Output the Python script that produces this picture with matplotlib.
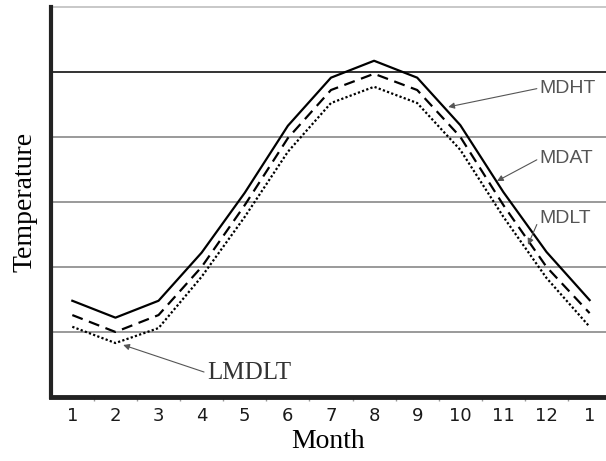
import matplotlib
matplotlib.use('Agg')
import matplotlib.pyplot as plt

# monthly temperature curves (arbitrary units)
month_labels = ['1', '2', '3', '4', '5', '6', '7', '8', '9', '10', '11', '12', '1']
mdht = [1.48, 1.22, 1.48, 2.22, 3.14, 4.17, 4.91, 5.17, 4.91, 4.18, 3.15, 2.23, 1.49]
mdat = [1.26, 1.00, 1.26, 2.00, 2.95, 3.98, 4.72, 4.97, 4.72, 4.00, 2.95, 2.00, 1.29]
mdlt = [1.08, 0.83, 1.06, 1.85, 2.77, 3.77, 4.52, 4.77, 4.52, 3.80, 2.77, 1.83, 1.08]
grid_levels = [1, 2, 3, 4, 5, 6]
grid_colors = ['#9a9a9a', '#9a9a9a', '#9a9a9a', '#9a9a9a', '#333333', '#c8c8c8']

xs = list(range(1, len(month_labels) + 1))

fig = plt.figure(figsize=(6.06, 4.61), dpi=100)
ax = fig.add_axes([0.0842, 0.1388, 0.9158, 0.8465])

for lvl, c in zip(grid_levels, grid_colors):
    ax.axhline(lvl, color=c, lw=1.4, zorder=1, clip_on=False)

ax.plot(xs, mdht, color='black', lw=1.6, zorder=3)
ax.plot(xs, mdat, color='black', lw=1.6, dashes=(5, 3), zorder=3)
ax.plot(xs, mdlt, color='black', lw=1.6, dashes=(1, 1), zorder=3)

ax.set_xlim(0.506, 13.38)
ax.set_ylim(0, 6)

ax.spines['top'].set_visible(False)
ax.spines['right'].set_visible(False)
ax.spines['left'].set_linewidth(3)
ax.spines['bottom'].set_linewidth(3.5)
ax.spines['left'].set_color('#222222')
ax.spines['bottom'].set_color('#222222')

ax.set_yticks([])
ax.set_xticks(xs)
ax.set_xticklabels(month_labels, fontsize=13, color='#1a1a1a', family='DejaVu Sans')
ax.set_xticks([x + 0.5 for x in xs[:-1]], minor=True)
ax.tick_params(axis='x', which='major', length=0, pad=7)
ax.tick_params(axis='x', which='minor', length=3, width=1, color='#999999')

ax.set_xlabel('Month', family='Liberation Serif', fontsize=20, labelpad=3)
ax.set_ylabel('Temperature', family='Liberation Serif', fontsize=20, labelpad=10)

arrow = dict(arrowstyle='-|>', color='#555555', lw=0.8, mutation_scale=9,
             shrinkA=0, shrinkB=0, relpos=(0, 0.5))
side = dict(family='Liberation Sans', fontsize=14, color='#555555', va='center', ha='left')
ax.annotate('MDHT', xy=(9.72, 4.46), xytext=(11.84, 4.75), arrowprops=arrow, **side)
ax.annotate('MDAT', xy=(10.85, 3.32), xytext=(11.84, 3.67), arrowprops=arrow, **side)
ax.annotate('MDLT', xy=(11.57, 2.34), xytext=(11.84, 2.75), arrowprops=arrow, **side)
ax.annotate('LMDLT', xy=(2.18, 0.80), xytext=(4.12, 0.37), arrowprops=arrow,
            family='Liberation Serif', fontsize=18, color='#333333',
            va='center', ha='left')

fig.savefig('out.png', dpi=100)
